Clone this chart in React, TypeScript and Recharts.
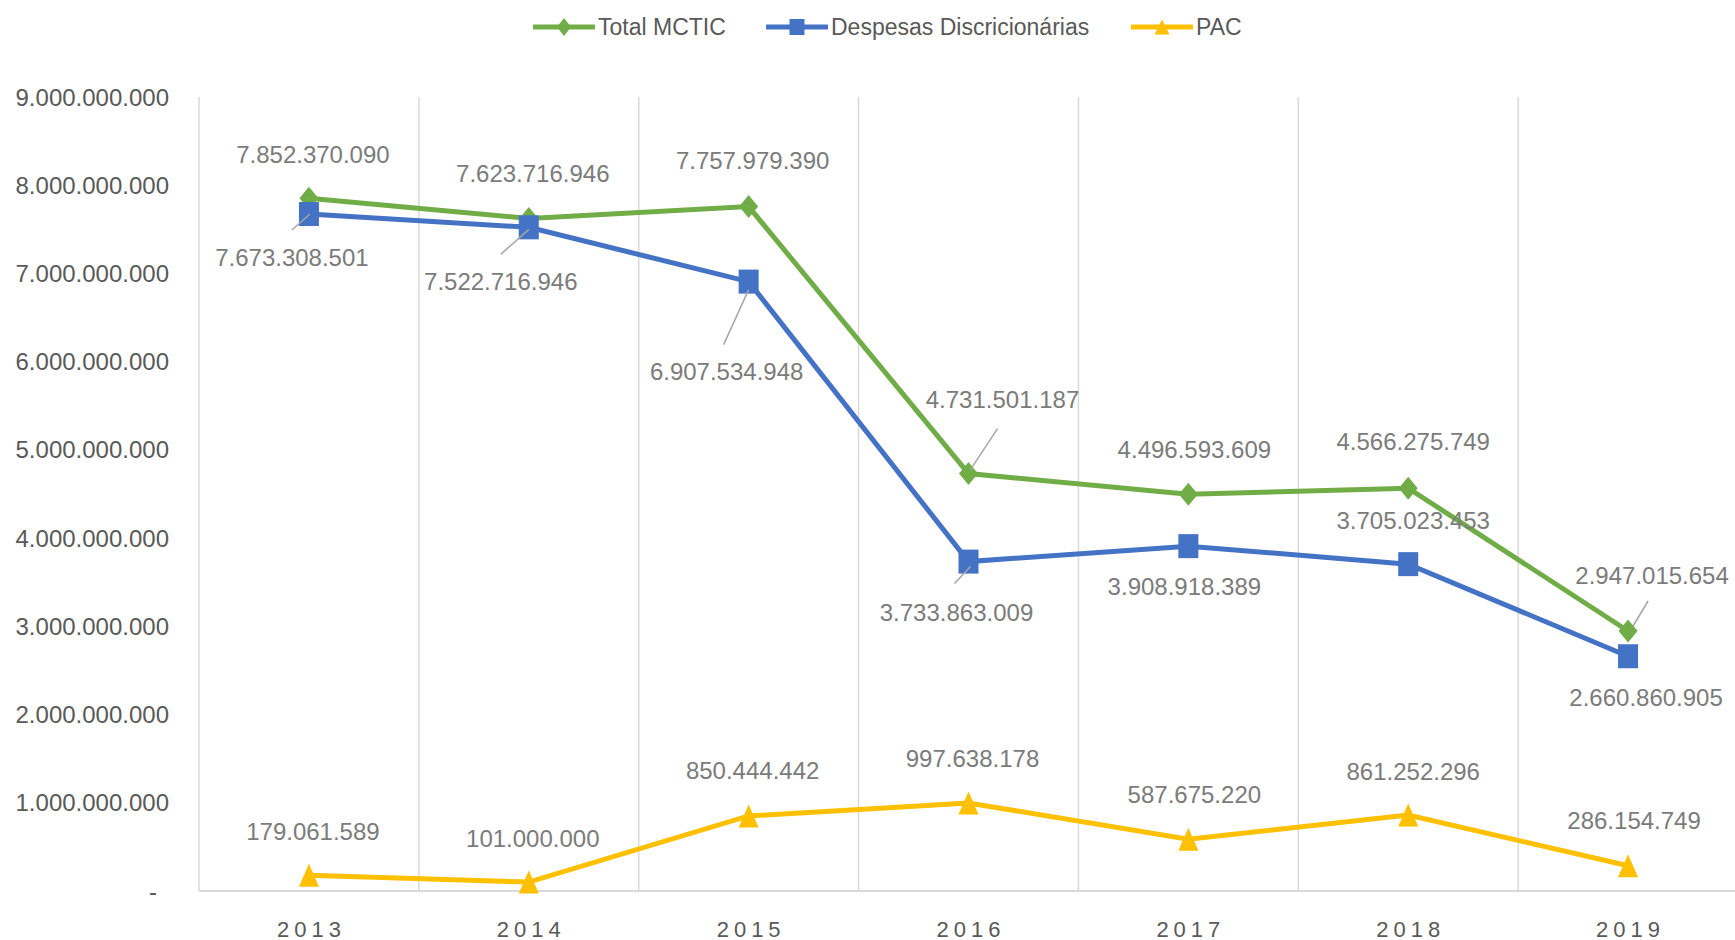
import React from 'react';
import { LineChart, Line, XAxis, YAxis, CartesianGrid, Legend, LabelList } from 'recharts';

const years = ['2013', '2014', '2015', '2016', '2017', '2018', '2019'];
const totalMCTIC = [7852370090, 7623716946, 7757979390, 4731501187, 4496593609, 4566275749, 2947015654];
const despesasDiscricionarias = [7673308501, 7522716946, 6907534948, 3733863009, 3908918389, 3705023453, 2660860905];
const pacValues = [179061589, 101000000, 850444442, 997638178, 587675220, 861252296, 286154749];
const yTicks = [0, 1000000000, 2000000000, 3000000000, 4000000000, 5000000000, 6000000000, 7000000000, 8000000000, 9000000000];

const data = years.map((year, i) => ({
  year,
  total: totalMCTIC[i],
  desp: despesasDiscricionarias[i],
  pac: pacValues[i],
}));

// label placement (style only)
const totalOffsets = [[4, -44], [4, -45], [4, -46], [34, -74], [6, -45], [5, -47], [24, -56]];
const despOffsets = [[-17, 43], [-28, 54], [-22, 90], [-12, 51], [-4, 40], [5, -44], [18, 41]];
const pacOffsets = [[4, -44], [4, -44], [4, -45], [4, -44], [6, -45], [5, -44], [6, -45]];
const totalLeaders: (number[] | null)[] = [null, null, null, [2, -4, 29, -45], null, null, [5, -5, 20, -30]];
const despLeaders: (number[] | null)[] = [[1, 0, -17, 16], [0, 2, -28, 27], [0, 8, -25, 63], [2, 5, -14, 22], null, null, null];
const pacLeaders: (number[] | null)[] = [null, null, null, null, null, null, null];

const GREEN = '#70AD47';
const BLUE = '#4472C4';
const YELLOW = '#FFC000';
const FONT = '"Liberation Sans", Arial, sans-serif';

const fmt = (v: number) => String(Math.round(v)).replace(/\B(?=(\d{3})+(?!\d))/g, '.');

const makeLabel = (offsets: number[][], leaders: (number[] | null)[]) => (props: any) => {
  const { x, y, value, index } = props;
  if (x == null || y == null) return null;
  const [dx, dy] = offsets[index] || [0, -40];
  const ld = leaders[index];
  return (
    <g key={`lbl-${index}`}>
      {ld && (
        <line x1={x + ld[0]} y1={y + ld[1]} x2={x + ld[2]} y2={y + ld[3]} stroke="#a6a6a6" strokeWidth={1.5} />
      )}
      <text
        x={x + dx}
        y={y + dy}
        textAnchor="middle"
        dominantBaseline="central"
        fill="#7b7b7b"
        fontSize={24}
        fontFamily={FONT}
      >
        {fmt(value)}
      </text>
    </g>
  );
};

const Diamond = ({ cx, cy, w = 19, h = 23, fill }: any) => (
  <path d={`M${cx},${cy - h / 2} L${cx + w / 2},${cy} L${cx},${cy + h / 2} L${cx - w / 2},${cy} Z`} fill={fill} />
);
const Square = ({ cx, cy, w = 20, h = 24, fill }: any) => (
  <rect x={cx - w / 2} y={cy - h / 2} width={w} height={h} fill={fill} />
);
const Triangle = ({ cx, cy, w = 20, h = 23, fill }: any) => (
  <path d={`M${cx},${cy - h / 2} L${cx + w / 2},${cy + h / 2} L${cx - w / 2},${cy + h / 2} Z`} fill={fill} />
);

const YTick = (props: any) => {
  const { x, y, payload } = props;
  const v = payload.value;
  return (
    <text
      x={v === 0 ? x - 16 : x}
      y={y}
      textAnchor={v === 0 ? 'middle' : 'end'}
      dominantBaseline="central"
      fill="#595959"
      fontSize={24}
      fontFamily={FONT}
    >
      {v === 0 ? '-' : fmt(v)}
    </text>
  );
};

const XTick = (props: any) => {
  const { x, y, payload } = props;
  return (
    <text
      x={x + 2.5}
      y={y + 36}
      textAnchor="middle"
      dominantBaseline="central"
      fill="#595959"
      fontSize={22}
      letterSpacing={5}
      fontFamily={FONT}
    >
      {payload.value}
    </text>
  );
};

const legendItems = [
  { name: 'Total MCTIC', color: GREEN, shape: 'diamond', left: 533 },
  { name: 'Despesas Discricionárias', color: BLUE, shape: 'square', left: 766 },
  { name: 'PAC', color: YELLOW, shape: 'triangle', left: 1131 },
];

const LegendContent = () => (
  <div style={{ position: 'relative', width: 1735, height: 54 }}>
    {legendItems.map((it) => (
      <div
        key={it.name}
        style={{ position: 'absolute', left: it.left, top: 12, height: 30, display: 'flex', alignItems: 'center' }}
      >
        <svg width={62} height={30} style={{ display: 'block' }}>
          <line x1={1} y1={15} x2={61} y2={15} stroke={it.color} strokeWidth={5} strokeLinecap="round" />
          {it.shape === 'diamond' && <Diamond cx={31} cy={15} w={14} h={18} fill={it.color} />}
          {it.shape === 'square' && <Square cx={31} cy={15} w={15} h={16} fill={it.color} />}
          {it.shape === 'triangle' && <Triangle cx={31} cy={15} w={15} h={15} fill={it.color} />}
        </svg>
        <span style={{ marginLeft: 3, fontFamily: FONT, fontSize: 23, color: '#595959', whiteSpace: 'nowrap' }}>
          {it.name}
        </span>
      </div>
    ))}
  </div>
);

export default function App() {
  return (
    <div style={{ position: 'absolute', left: 0, top: 0, width: 1735, height: 940, background: '#fff', overflow: 'hidden' }}>
      <LineChart width={1735} height={940} data={data} margin={{ top: 97, right: -3, bottom: 9, left: 10 }}>
        <CartesianGrid
          horizontal={false}
          vertical={true}
          stroke="#d9d9d9"
          strokeWidth={1.5}
          verticalCoordinatesGenerator={({ offset }: any) =>
            years.map((_, k) => offset.left + (offset.width * k) / years.length)
          }
        />
        <XAxis
          dataKey="year"
          scale="band"
          axisLine={{ stroke: '#d9d9d9', strokeWidth: 2 }}
          tickLine={false}
          tickSize={0}
          height={40}
          interval={0}
          tick={<XTick />}
        />
        <YAxis
          type="number"
          domain={[0, 9000000000]}
          ticks={yTicks}
          interval={0}
          axisLine={false}
          tickLine={false}
          tickSize={0}
          tickMargin={30}
          width={189}
          tick={<YTick />}
        />
        <Legend
          layout="horizontal"
          verticalAlign="middle"
          align="center"
          wrapperStyle={{ top: 0, left: 0, width: 1735, height: 54 }}
          content={<LegendContent />}
        />
        <Line
          dataKey="total"
          name="Total MCTIC"
          stroke={GREEN}
          strokeWidth={5}
          isAnimationActive={false}
          dot={(p: any) => <Diamond key={`d-${p.index}`} cx={p.cx} cy={p.cy} fill={GREEN} />}
          activeDot={false}
        >
          <LabelList dataKey="total" content={makeLabel(totalOffsets, totalLeaders)} />
        </Line>
        <Line
          dataKey="desp"
          name="Despesas Discricionárias"
          stroke={BLUE}
          strokeWidth={5}
          isAnimationActive={false}
          dot={(p: any) => <Square key={`s-${p.index}`} cx={p.cx} cy={p.cy} fill={BLUE} />}
          activeDot={false}
        >
          <LabelList dataKey="desp" content={makeLabel(despOffsets, despLeaders)} />
        </Line>
        <Line
          dataKey="pac"
          name="PAC"
          stroke={YELLOW}
          strokeWidth={5}
          isAnimationActive={false}
          dot={(p: any) => <Triangle key={`t-${p.index}`} cx={p.cx} cy={p.cy} fill={YELLOW} />}
          activeDot={false}
        >
          <LabelList dataKey="pac" content={makeLabel(pacOffsets, pacLeaders)} />
        </Line>
      </LineChart>
    </div>
  );
}
